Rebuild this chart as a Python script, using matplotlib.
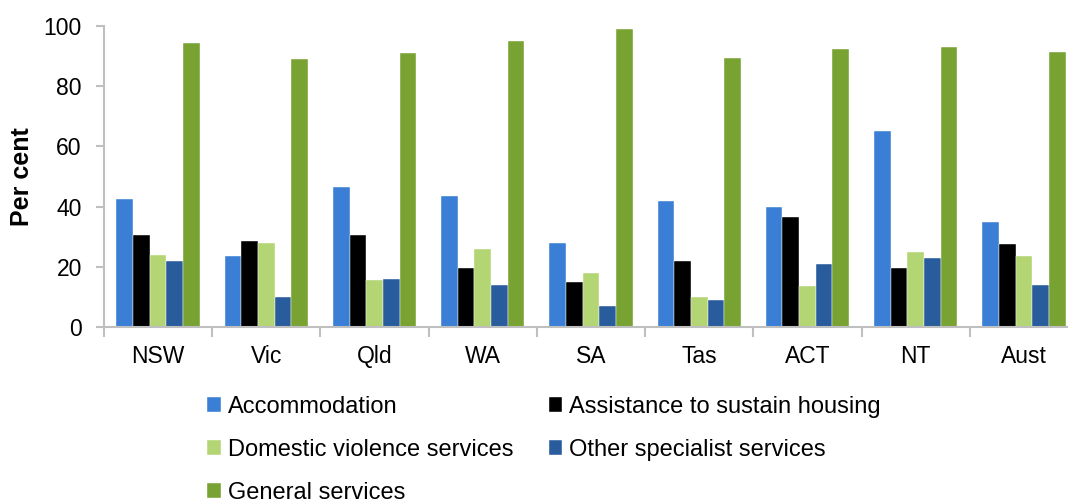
import numpy as np
import matplotlib.pyplot as plt

states = ['NSW', 'Vic', 'Qld', 'WA', 'SA', 'Tas', 'ACT', 'NT', 'Aust']
accommodation = [42.5, 23.5, 46.5, 43.5, 28, 42, 40, 65, 35]
assistance = [30.5, 28.5, 30.5, 19.5, 15, 22, 36.5, 19.5, 27.5]
domestic = [24, 28, 15.5, 26, 18, 10, 13.5, 25, 23.5]
other = [22, 10, 16, 14, 7, 9, 21, 23, 14]
general = [94.5, 89, 91, 95, 99, 89.5, 92.5, 93, 91.5]

series = [
    ('Accommodation', accommodation, '#3A7FD5'),
    ('Assistance to sustain housing', assistance, '#000000'),
    ('Domestic violence services', domestic, '#B3D574'),
    ('Other specialist services', other, '#285C9D'),
    ('General services', general, '#78A232'),
]

plt.rcParams['font.family'] = ['Liberation Sans', 'DejaVu Sans']

fig = plt.figure(figsize=(10.68, 4.99), dpi=100)
# axes runs past the right edge, as in the original
ax = fig.add_axes([104 / 1068, 1 - 327 / 499, 974 / 1068, 301 / 499])

x = np.arange(len(states))
w = 0.154
bars = []
for i, (name, vals, col) in enumerate(series):
    b = ax.bar(x + (i - 2) * w, vals, w, color=col, label=name,
               edgecolor='white', linewidth=0.3)
    bars.append(b)

ax.set_xlim(-0.5, len(states) - 0.5)
ax.set_ylim(0, 100)
ax.set_yticks(range(0, 101, 20))
ax.set_xticks(x)
ax.set_xticklabels(states)
ax.set_xticks(np.arange(-0.5, len(states)), minor=True)
ax.tick_params(axis='x', which='major', length=0, labelsize=16.5, pad=13)
ax.tick_params(axis='x', which='minor', length=7, color='#BFBFBF', width=1.5)
ax.tick_params(axis='y', length=6, color='#BFBFBF', width=1.5, labelsize=16.5,
               pad=10)
for s in ['top', 'right']:
    ax.spines[s].set_visible(False)
for s in ['left', 'bottom']:
    ax.spines[s].set_color('#BFBFBF')
    ax.spines[s].set_linewidth(1.5)
ax.set_ylabel('Per cent', fontsize=18, fontweight='bold', labelpad=7)

# row-major legend order
order = [0, 2, 4, 1, 3]
fig.legend([bars[i] for i in order], [series[i][0] for i in order],
           loc='upper left', bbox_to_anchor=(207 / 1068, 1 - 396 / 499),
           ncol=2, frameon=False, fontsize=17, handlelength=0.58,
           handleheight=0.58, handletextpad=0.3, columnspacing=1.5,
           labelspacing=0.88, borderaxespad=0, borderpad=0)

fig.savefig('out.png', dpi=100)
